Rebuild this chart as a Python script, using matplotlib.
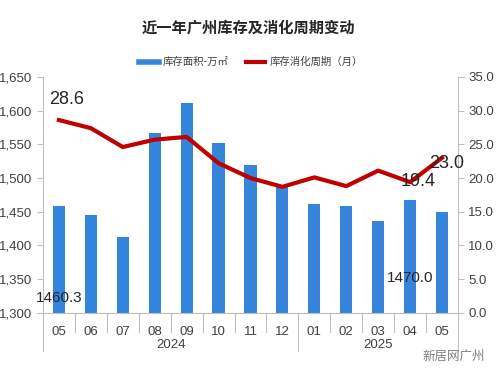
import matplotlib

matplotlib.use("Agg")
import matplotlib.pyplot as plt
from matplotlib.lines import Line2D

plt.rcParams["font.family"] = ["Liberation Sans", "Noto Sans CJK SC", "DejaVu Sans"]

months = ["05", "06", "07", "08", "09", "10", "11", "12", "01", "02", "03", "04", "05"]
years = ["2024", "2025"]
year_spans = [(0, 7), (8, 12)]
inventory = [1458, 1445, 1413, 1567, 1612, 1552, 1520, 1489, 1462, 1458, 1437, 1468, 1450]
cycle = [28.6, 27.4, 24.6, 25.7, 26.1, 22.2, 20.0, 18.7, 20.1, 18.8, 21.1, 19.4, 23.0]

bar_color = "#3585dc"
line_color = "#c00000"
grey = "#bfbfbf"
text_color = "#404040"
cjk = ["Noto Sans CJK SC", "DejaVu Sans"]

fig = plt.figure(figsize=(4.97, 3.77), dpi=100)
ax = fig.add_axes([0.0865, 0.170, 0.835, 0.626])
ax2 = ax.twinx()

x = list(range(len(months)))
ax.bar(x, inventory, width=0.38, color=bar_color, zorder=2)
ax2.plot(x, cycle, color=line_color, lw=3, solid_joinstyle="round", zorder=3)

ax.set_xlim(-0.5, len(months) - 0.5)
ax.set_ylim(1300, 1650)
ax.set_yticks(range(1300, 1651, 50))
ax.set_yticklabels([f"{v:,}" for v in range(1300, 1651, 50)])
ax2.set_ylim(0, 35)
ax2.set_yticks(range(0, 36, 5))
ax2.set_yticklabels([f"{v:.1f}" for v in range(0, 36, 5)])

for a in (ax, ax2):
    a.spines["top"].set_visible(False)
    a.spines["left"].set_color(grey)
    a.spines["right"].set_color(grey)
    a.spines["bottom"].set_color(grey)
    a.tick_params(axis="y", colors=grey, labelcolor=text_color, labelsize=9.5, length=4)
ax.spines["right"].set_visible(False)
ax2.spines["left"].set_visible(False)
ax2.spines["bottom"].set_visible(False)

ax.set_xticks([])
# category labels and separators below the axis
trans = ax.get_xaxis_transform()
for i, m in enumerate(months):
    ax.text(i, -0.055, m, transform=trans, ha="center", va="top", fontsize=9.5, color=text_color)
for i in range(len(months) + 1):
    long_sep = i in (0, 8, len(months))
    ax.plot([i - 0.5, i - 0.5], [0, -0.08 if not long_sep else -0.16],
            transform=trans, color=grey, lw=0.8, clip_on=False)
for yr, (a0, a1) in zip(years, year_spans):
    ax.text((a0 + a1) / 2, -0.11, yr, transform=trans, ha="center", va="top",
            fontsize=9.5, color=text_color)

# data labels as placed in the source
ax2.text(0.25, 31.6, "28.6", ha="center", va="center", fontsize=13, color="#262626")
ax.text(0, 1322, "1460.3", ha="center", va="center", fontsize=11, color="#262626")
ax.text(11, 1352, "1470.0", ha="center", va="center", fontsize=11, color="#262626")
ax2.text(11.25, 19.5, "19.4", ha="center", va="center", fontsize=13, color="#262626")
ax2.text(12.15, 22.2, "23.0", ha="center", va="center", fontsize=13, color="#262626")

fig.text(0.5, 0.928, "近一年广州库存及消化周期变动", ha="center", va="center",
         fontsize=11, fontweight="bold", color="#262626", family=cjk)

handles = [Line2D([0], [0], color=bar_color, lw=4),
           Line2D([0], [0], color=line_color, lw=3)]
fig.legend(handles, ["库存面积-万㎡", "库存消化周期（月）"], loc="center",
           bbox_to_anchor=(0.505, 0.835), ncol=2, frameon=False,
           prop={"family": cjk, "size": 7.5},
           handlelength=1.9, handletextpad=0.4, columnspacing=1.6, labelcolor=text_color)

fig.text(0.975, 0.055, "新居网广州", ha="right", va="center", fontsize=9,
         color="#808080", family=cjk)

fig.savefig("out.png", dpi=100)
